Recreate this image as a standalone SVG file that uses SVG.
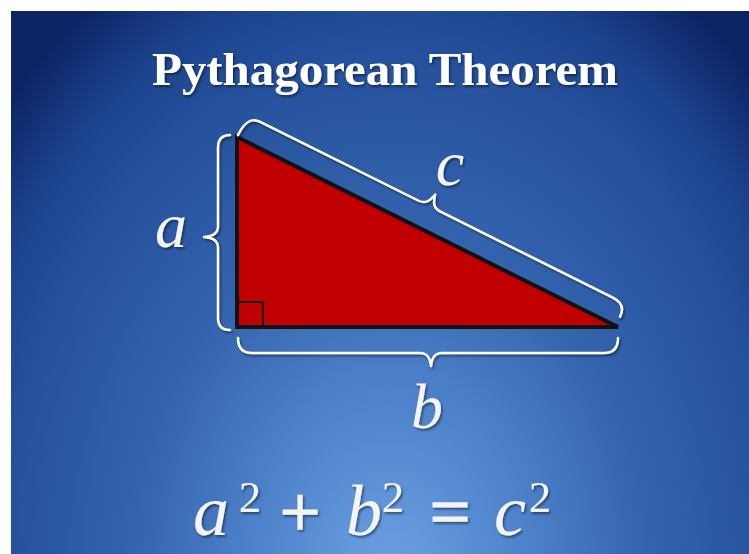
<svg xmlns="http://www.w3.org/2000/svg" width="749" height="554" viewBox="0 0 749 554">
  <defs>
    <radialGradient id="bg" gradientUnits="userSpaceOnUse" cx="390" cy="580" r="520" gradientTransform="translate(390 580) scale(1 1.35) translate(-390 -580)">
      <stop offset="0" stop-color="#6ea2e3"/>
      <stop offset="0.25" stop-color="#4f84cc"/>
      <stop offset="0.5" stop-color="#3463ad"/>
      <stop offset="0.75" stop-color="#25509c"/>
      <stop offset="0.87" stop-color="#1c428c"/>
      <stop offset="1" stop-color="#0c2466"/>
    </radialGradient>
    <filter id="sh" x="-10%" y="-10%" width="130%" height="140%">
      <feDropShadow dx="1.5" dy="2" stdDeviation="1.2" flood-color="#000" flood-opacity="0.45"/>
    </filter>
  </defs>
  <style>
    .brace { fill: none; stroke: #ffffff; stroke-width: 2.5; stroke-linecap: round; stroke-linejoin: round; }
    .math { font-family: "Liberation Serif", "Times New Roman", serif; font-style: italic; fill: #f4f4f4; }
    .up { font-family: "Liberation Serif", "Times New Roman", serif; fill: #f4f4f4; }
    .op { font-family: "Liberation Serif", "Times New Roman", serif; fill: #f4f4f4; stroke: #f4f4f4; stroke-width: 1.6; }
    .title { font-family: "Liberation Serif", "Times New Roman", serif; font-weight: bold; fill: #ffffff; }
  </style>
  <rect x="0" y="0" width="749" height="554" fill="#ffffff"/>
  <rect x="11" y="11" width="738" height="543" fill="url(#bg)"/>

  <g id="title" filter="url(#sh)">
    <text class="title" x="385" y="85" font-size="46" text-anchor="middle" textLength="466" lengthAdjust="spacingAndGlyphs">Pythagorean Theorem</text>
  </g>

  <g id="triangle">
    <polygon points="237,137 237,327 618,327" fill="#c00000" stroke="#111111" stroke-width="4" stroke-linejoin="miter"/>
    <rect x="238" y="302" width="25" height="25" fill="none" stroke="#111111" stroke-width="2"/>
  </g>

  <g id="connectors" filter="url(#sh)">
    <path class="brace" d="M230,135 C222,135 218,139 218,148 L218,226 C218,233 214,236 204,237 C214,238 218,241 218,248 L218,318 C218,326 222,330 230,330"/>
    <path class="brace" d="M238,338 C238,347 242,353 252,353 L420,353 C427,353 430,357 431,366 C432,357 435,353 442,353 L604,353 C614,353 618,347 618,338"/>
    <path class="brace" transform="translate(237 137) rotate(26.5)" d="M0,-2 C0,-17 4,-24 14,-24 L191,-24 C198,-24 201,-28 203,-37 C205,-28 208,-24 215,-24 L408,-24 C418,-24 423,-19 423,-10"/>
  </g>

  <g id="label-a" filter="url(#sh)">
    <text class="math" x="171" y="247" font-size="64" text-anchor="middle">a</text>
  </g>
  <g id="label-b" filter="url(#sh)">
    <text class="math" x="427" y="428" font-size="64" text-anchor="middle">b</text>
  </g>
  <g id="label-c" filter="url(#sh)">
    <text class="math" x="450" y="185" font-size="64" text-anchor="middle">c</text>
  </g>

  <g id="equation" filter="url(#sh)">
    <text class="math" x="211" y="535" font-size="72" text-anchor="middle">a</text>
    <text class="up" x="250" y="512" font-size="45" text-anchor="middle">2</text>
    <text class="op" x="300" y="536" font-size="72" text-anchor="middle">+</text>
    <text class="math" x="364" y="535" font-size="72" text-anchor="middle">b</text>
    <text class="up" x="393" y="512" font-size="45" text-anchor="middle">2</text>
    <text class="op" x="450" y="536" font-size="72" text-anchor="middle">=</text>
    <text class="math" x="510" y="535" font-size="72" text-anchor="middle">c</text>
    <text class="up" x="540" y="512" font-size="45" text-anchor="middle">2</text>
  </g>
</svg>
